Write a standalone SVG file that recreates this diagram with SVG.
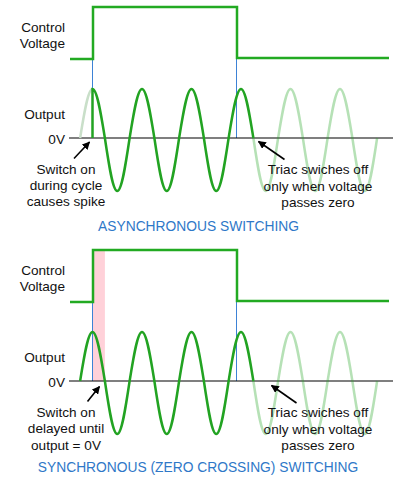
<svg xmlns="http://www.w3.org/2000/svg" width="400" height="480" viewBox="0 0 400 480">
<style>
text{font-family:"Liberation Sans",Arial,sans-serif;font-size:13.6px;fill:#111}
.lbl{text-anchor:end}
.ann{text-anchor:middle}
.title{text-anchor:middle;fill:#2f78c8;font-size:13.8px}
.ctl{fill:none;stroke:#22aa22;stroke-width:2.5}
.wave{fill:none;stroke:#22a322;stroke-width:2.5}
.fade{fill:none;stroke:#22a322;stroke-width:2.5;stroke-opacity:0.33}
.fade0{fill:none;stroke:#c9dfc9;stroke-width:2.5}
.zero{stroke:#000;stroke-width:1.2}
.blue{stroke:#3d82d6;stroke-width:1}
.arr{stroke:#000;stroke-width:1.6;marker-end:url(#ah)}
</style>
<defs>
<marker id="ah" viewBox="0 0 10 10" refX="9" refY="5" markerWidth="5" markerHeight="5" orient="auto" markerUnits="strokeWidth">
<path d="M0,0 L10,5 L0,10 z" fill="#000"/>
</marker>
</defs>
<g id="async">
<g id="async-labels">
<text class="lbl" x="65" y="32">Control</text>
<text class="lbl" x="65" y="48">Voltage</text>
<text class="lbl" x="65" y="119">Output</text>
<text class="lbl" x="65" y="143.5">0V</text>
</g>
<line class="blue" x1="92.5" y1="59" x2="92.5" y2="138"/>
<line class="blue" x1="236.5" y1="58" x2="236.5" y2="138"/>
<path class="ctl" d="M70,59 H93 V7 H237 V58 H389"/>
<line class="zero" x1="69" y1="138" x2="393" y2="138"/>
<path class="fade0" d="M80.125,138 c4.036,-25.1 7.897,-49 12.375,-49"/>
<path class="fade" d="M253.375,138 c4.036,27.15 7.897,53 12.375,53 c4.478,0 8.339,-25.85 12.375,-53 c4.036,-25.1 7.897,-49 12.375,-49 c4.478,0 8.339,23.9 12.375,49 c4.036,27.15 7.897,53 12.375,53 c4.478,0 8.339,-25.85 12.375,-53 c4.036,-25.1 7.897,-49 12.375,-49 c4.478,0 8.339,23.9 12.375,49 c4.036,27.15 7.897,53 12.375,53 c4.478,0 8.339,-25.85 12.375,-53"/>
<path class="wave" d="M92.5,138 V89 c4.478,0 8.339,23.9 12.375,49 c4.036,27.15 7.897,53 12.375,53 c4.478,0 8.339,-25.85 12.375,-53 c4.036,-25.1 7.897,-49 12.375,-49 c4.478,0 8.339,23.9 12.375,49 c4.036,27.15 7.897,53 12.375,53 c4.478,0 8.339,-25.85 12.375,-53 c4.036,-25.1 7.897,-49 12.375,-49 c4.478,0 8.339,23.9 12.375,49 c4.036,27.15 7.897,53 12.375,53 c4.478,0 8.339,-25.85 12.375,-53 c4.036,-25.1 7.897,-49 12.375,-49 c4.478,0 8.339,23.9 12.375,49"/>
<g id="async-note-on">
<text class="ann" x="66" y="173.5">Switch on</text>
<text class="ann" x="66" y="190">during cycle</text>
<text class="ann" x="66" y="206">causes spike</text>
</g>
<g id="async-note-off">
<text class="ann" x="318" y="174">Triac swiches off</text>
<text class="ann" x="318" y="190.5">only when voltage</text>
<text class="ann" x="318" y="206.5">passes zero</text>
</g>
<text class="title" x="198.5" y="231">ASYNCHRONOUS SWITCHING</text>
</g>
<g id="sync">
<g id="sync-labels">
<text class="lbl" x="65" y="275">Control</text>
<text class="lbl" x="65" y="291">Voltage</text>
<text class="lbl" x="65" y="362">Output</text>
<text class="lbl" x="65" y="386.5">0V</text>
</g>
<rect x="93" y="250" width="11.9" height="131" fill="#ffd1d9"/>
<line class="blue" x1="92.5" y1="302" x2="92.5" y2="381"/>
<line class="blue" x1="236.5" y1="301" x2="236.5" y2="381"/>
<path class="ctl" d="M70,302 H93 V250 H237 V301 H389"/>
<line class="zero" x1="69" y1="381" x2="393" y2="381"/>
<path class="fade" d="M253.375,381 c4.036,27.15 7.897,53 12.375,53 c4.478,0 8.339,-25.85 12.375,-53 c4.036,-25.1 7.897,-49 12.375,-49 c4.478,0 8.339,23.9 12.375,49 c4.036,27.15 7.897,53 12.375,53 c4.478,0 8.339,-25.85 12.375,-53 c4.036,-25.1 7.897,-49 12.375,-49 c4.478,0 8.339,23.9 12.375,49 c4.036,27.15 7.897,53 12.375,53 c4.478,0 8.339,-25.85 12.375,-53"/>
<path class="wave" d="M80.125,381 c4.036,-25.1 7.897,-49 12.375,-49 c4.478,0 8.339,23.9 12.375,49 c4.036,27.15 7.897,53 12.375,53 c4.478,0 8.339,-25.85 12.375,-53 c4.036,-25.1 7.897,-49 12.375,-49 c4.478,0 8.339,23.9 12.375,49 c4.036,27.15 7.897,53 12.375,53 c4.478,0 8.339,-25.85 12.375,-53 c4.036,-25.1 7.897,-49 12.375,-49 c4.478,0 8.339,23.9 12.375,49 c4.036,27.15 7.897,53 12.375,53 c4.478,0 8.339,-25.85 12.375,-53 c4.036,-25.1 7.897,-49 12.375,-49 c4.478,0 8.339,23.9 12.375,49"/>
<g id="sync-note-on">
<text class="ann" x="66" y="416.5">Switch on</text>
<text class="ann" x="66" y="433">delayed until</text>
<text class="ann" x="66" y="449.5">output = 0V</text>
</g>
<g id="sync-note-off">
<text class="ann" x="318" y="417">Triac swiches off</text>
<text class="ann" x="318" y="433.5">only when voltage</text>
<text class="ann" x="318" y="449.5">passes zero</text>
</g>
<text class="title" x="198" y="471.5">SYNCHRONOUS (ZERO CROSSING) SWITCHING</text>
</g>
<g id="connectors">
<line class="arr" x1="74" y1="158.5" x2="89.5" y2="142"/>
<line class="arr" x1="284.5" y1="159.5" x2="258.5" y2="141.5"/>
<line class="arr" x1="87.5" y1="401.5" x2="99.5" y2="386.5"/>
<line class="arr" x1="296.5" y1="403" x2="271.5" y2="385.5"/>
</g>
</svg>
